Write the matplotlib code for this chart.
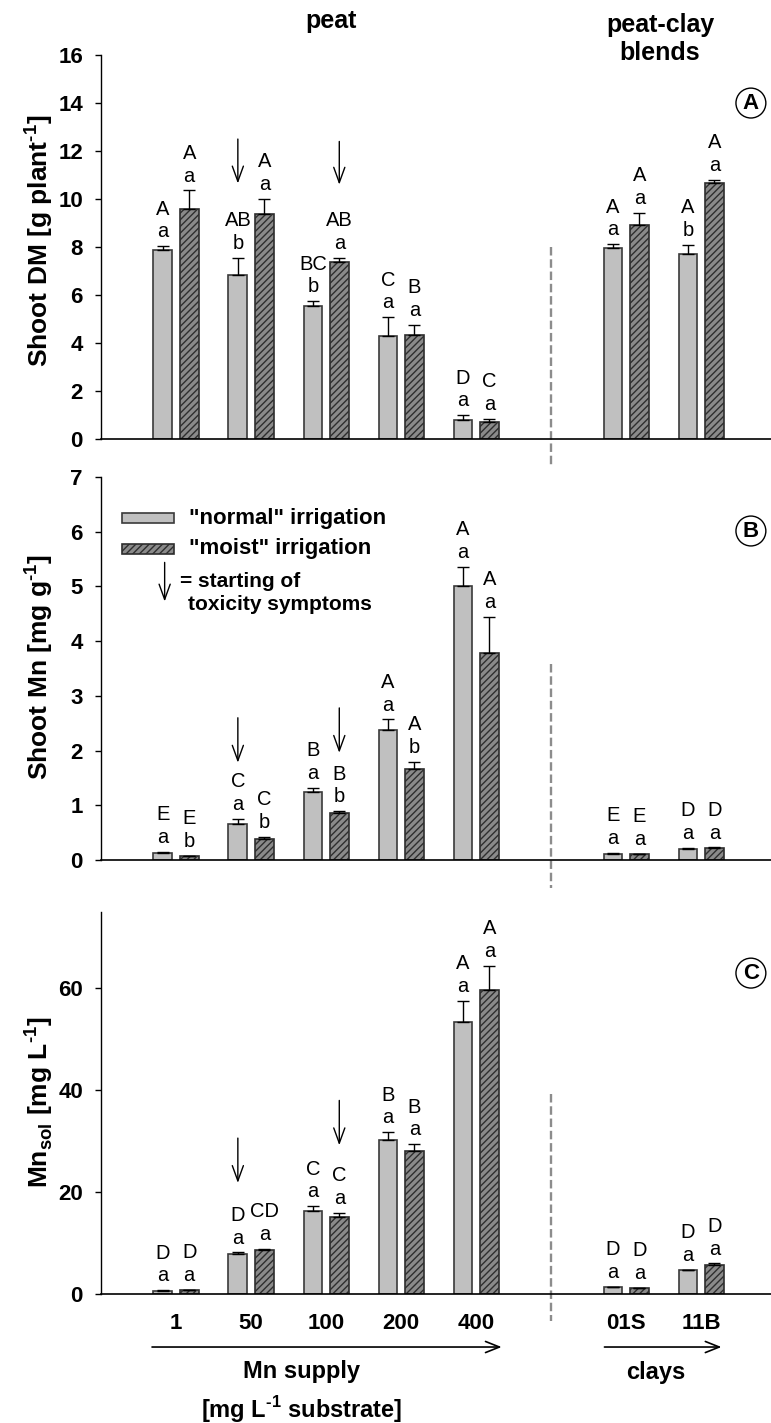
import matplotlib
matplotlib.use("Agg")
import matplotlib.pyplot as plt
import matplotlib.transforms as mtransforms
from matplotlib.patches import Rectangle
import numpy as np

plt.rcParams['font.family'] = ['Liberation Sans', 'DejaVu Sans']
plt.rcParams['mathtext.fontset'] = 'custom'
plt.rcParams['mathtext.rm'] = 'Liberation Sans:bold'
plt.rcParams['mathtext.bf'] = 'Liberation Sans:bold'
plt.rcParams['hatch.linewidth'] = 1.0

# treatments: 5 Mn levels in peat + 2 peat-clay blends
treat = ["1", "50", "100", "200", "400", "01S", "11B"]

# (A) shoot dry matter [g plant-1]
dm_norm = [7.89, 6.83, 5.53, 4.28, 0.80, 7.96, 7.70]
dm_norm_sd = [0.14, 0.71, 0.21, 0.79, 0.19, 0.16, 0.39]
dm_moist = [9.57, 9.38, 7.36, 4.33, 0.71, 8.90, 10.67]
dm_moist_sd = [0.79, 0.62, 0.18, 0.44, 0.12, 0.53, 0.14]
dm_let_norm = ["A\na", "AB\nb", "BC\nb", "C\na", "D\na", "A\na", "A\nb"]
dm_let_moist = ["A\na", "A\na", "AB\na", "B\na", "C\na", "A\na", "A\na"]

# (B) shoot Mn [mg g-1]
mn_norm = [0.134, 0.66, 1.246, 2.37, 5.01, 0.116, 0.208]
mn_norm_sd = [0.013, 0.09, 0.074, 0.20, 0.35, 0.012, 0.012]
mn_moist = [0.067, 0.39, 0.867, 1.668, 3.775, 0.11, 0.22]
mn_moist_sd = [0.006, 0.03, 0.023, 0.122, 0.675, 0.006, 0.012]
mn_let_norm = ["E\na", "C\na", "B\na", "A\na", "A\na", "E\na", "D\na"]
mn_let_moist = ["E\nb", "C\nb", "B\nb", "A\nb", "A\na", "E\na", "D\na"]

# (C) soluble Mn in substrate [mg L-1]
sol_norm = [0.61, 7.82, 16.33, 30.27, 53.33, 1.36, 4.63]
sol_norm_sd = [0.14, 0.34, 0.87, 1.50, 4.29, 0.07, 0.13]
sol_moist = [0.68, 8.71, 15.17, 28.03, 59.66, 1.09, 5.65]
sol_moist_sd = [0.14, 0.20, 0.82, 1.36, 4.76, 0.13, 0.34]
sol_let_norm = ["D\na", "D\na", "C\na", "B\na", "A\na", "D\na", "D\na"]
sol_let_moist = ["D\na", "CD\na", "C\na", "B\na", "A\na", "D\na", "D\na"]

# onset of toxicity symptoms: treatment index, series, arrow from/to
tox_idx = [1, 2]
tox_side = ["norm", "moist"]
tox_A = [(12.5, 10.65), (12.4, 10.6)]
tox_B = [(2.6, 1.78), (2.78, 1.96)]
tox_C = [(30.6, 21.8), (38.0, 29.2)]

# group positions: gap at 5 separates peat from peat-clay blends
x = np.array([0, 1, 2, 3, 4, 6, 7], dtype=float)
w = 0.25
off = 0.176

ARROW = dict(arrowstyle='->, head_length=0.55, head_width=0.2',
             lw=1, color='black', mutation_scale=20, shrinkA=0, shrinkB=0)

fig = plt.figure(figsize=(7.71, 14.23), dpi=100)
L, W = 0.131, 0.869
axA = fig.add_axes([L, 0.6915, W, 0.2698])
axB = fig.add_axes([L, 0.3956, W, 0.2692])
axC = fig.add_axes([L, 0.0907, W, 0.2684])

panels = [
    (axA, dm_norm, dm_norm_sd, dm_moist, dm_moist_sd, dm_let_norm, dm_let_moist,
     tox_A, (0, 16), np.arange(0, 17, 2), r"Shoot DM [g plant$^{\text{-1}}$]", "A", 0.875, 0.5, 0.516),
    (axB, mn_norm, mn_norm_sd, mn_moist, mn_moist_sd, mn_let_norm, mn_let_moist,
     tox_B, (0, 7), np.arange(0, 8, 1), r"Shoot Mn [mg g$^{\text{-1}}$]", "B", 0.859, 0.513, 0.505),
    (axC, sol_norm, sol_norm_sd, sol_moist, sol_moist_sd, sol_let_norm, sol_let_moist,
     tox_C, (0, 75), [0, 20, 40, 60], r"Mn$_{\text{sol}}$ [mg L$^{\text{-1}}$]", "C", 0.84, 0.524, 0.503),
]

for (ax, yn, sn, ym, sm, ln, lm, tox, ylim, yt, ylab, tag, tag_y, dash_top, lab_y) in panels:
    xn = x - off
    xm = x + off
    ax.bar(xn, yn, w, color='#c0c0c0', edgecolor='#3a3a3a', linewidth=1.2, zorder=2)
    ax.bar(xm, ym, w, color='#8a8a8a', edgecolor='#2e2e2e', linewidth=1.2,
           hatch='/////', zorder=2)
    ax.errorbar(xn, yn, yerr=[np.zeros(len(yn)), sn], fmt='none', ecolor='black',
                elinewidth=1, capsize=4.5, capthick=1, zorder=3)
    ax.errorbar(xm, ym, yerr=[np.zeros(len(ym)), sm], fmt='none', ecolor='black',
                elinewidth=1, capsize=4.5, capthick=1, zorder=3)

    # significance letters above the error bars
    for xi, yi, si, t in zip(xn, yn, sn, ln):
        ax.annotate(t, (xi, yi + si), xytext=(0, 3.5), textcoords='offset points',
                    ha='center', va='bottom', fontsize=14.5, linespacing=1.25)
    for xi, yi, si, t in zip(xm, ym, sm, lm):
        ax.annotate(t, (xi, yi + si), xytext=(0, 3.5), textcoords='offset points',
                    ha='center', va='bottom', fontsize=14.5, linespacing=1.25)

    # toxicity arrows
    for i, side, (y0, y1) in zip(tox_idx, tox_side, tox):
        xa = x[i] - off if side == "norm" else x[i] + off
        ax.annotate('', xy=(xa, y1), xytext=(xa, y0), arrowprops=ARROW)

    # dashed separator between peat and peat-clay blends
    trans = mtransforms.blended_transform_factory(ax.transData, ax.transAxes)
    ax.plot([5, 5], [dash_top, -0.072], transform=trans, clip_on=False,
            color='#8c8c8c', lw=1.7, ls=(0, (3.6, 1.6)), zorder=1)

    ax.set_xlim(-1.0, 7.93)
    ax.set_ylim(*ylim)
    ax.set_yticks(yt)
    ax.tick_params(axis='y', direction='out', length=4, width=1, pad=9, labelsize=16)
    for lb in ax.get_yticklabels():
        lb.set_fontweight('bold')
    ax.spines['top'].set_visible(False)
    ax.spines['right'].set_visible(False)
    ax.spines['left'].set_linewidth(1)
    ax.spines['bottom'].set_linewidth(1.2)
    ax.set_ylabel(ylab, fontsize=19, fontweight='bold', va='center')
    ax.yaxis.set_label_coords(-0.093, lab_y)

    ax.text(0.97, tag_y, tag, transform=ax.transAxes, ha='center', va='center',
            fontsize=16, fontweight='bold',
            bbox=dict(boxstyle='circle,pad=0.2', fc='white', ec='black', lw=1))

for ax in (axA, axB):
    ax.set_xticks([])

axC.set_xticks(x)
axC.set_xticklabels(treat, fontsize=16, fontweight='bold')
axC.tick_params(axis='x', length=0, pad=14)

# legend drawn inside panel B
axB.add_patch(Rectangle((0.0313, 0.879), 0.078, 0.026, transform=axB.transAxes,
                        fc='#c0c0c0', ec='#3a3a3a', lw=1.2, clip_on=False))
axB.add_patch(Rectangle((0.0313, 0.800), 0.078, 0.026, transform=axB.transAxes,
                        fc='#8a8a8a', ec='#2e2e2e', lw=1.2, hatch='/////', clip_on=False))
axB.text(0.131, 0.892, '"normal" irrigation', transform=axB.transAxes,
         ha='left', va='center', fontsize=16, fontweight='bold')
axB.text(0.131, 0.813, '"moist" irrigation', transform=axB.transAxes,
         ha='left', va='center', fontsize=16, fontweight='bold')
axB.annotate('', xy=(0.095, 0.675), xytext=(0.095, 0.777), xycoords='axes fraction',
             arrowprops=ARROW)
axB.text(0.118, 0.728, '= starting of', transform=axB.transAxes,
         ha='left', va='center', fontsize=15, fontweight='bold')
axB.text(0.130, 0.668, 'toxicity symptoms', transform=axB.transAxes,
         ha='left', va='center', fontsize=15, fontweight='bold')

# x-axis groupings under panel C
transC = mtransforms.blended_transform_factory(axC.transData, axC.transAxes)
BOTTOM_ARROW = dict(ARROW, lw=1.2, arrowstyle='->, head_length=0.5, head_width=0.2')
axC.annotate('', xy=(4.34, -0.139), xytext=(-0.32, -0.139), xycoords=transC,
             textcoords=transC, annotation_clip=False, arrowprops=BOTTOM_ARROW)
axC.annotate('', xy=(7.27, -0.139), xytext=(5.71, -0.139), xycoords=transC,
             textcoords=transC, annotation_clip=False, arrowprops=BOTTOM_ARROW)
axC.text(1.67, -0.204, 'Mn supply', transform=transC, ha='center', va='center',
         fontsize=17, fontweight='bold')
axC.text(1.67, -0.304, r'[mg L$^{\text{-1}}$ substrate]', transform=transC,
         ha='center', va='center', fontsize=17, fontweight='bold')
axC.text(6.39, -0.207, 'clays', transform=transC, ha='center', va='center',
         fontsize=17, fontweight='bold')

# substrate headings
fig.text(331 / 771, 1 - 28 / 1423, 'peat', ha='center', va='baseline',
         fontsize=18, fontweight='bold')
fig.text(660 / 771, 1 - 32 / 1423, 'peat-clay', ha='center', va='baseline',
         fontsize=18, fontweight='bold')
fig.text(660 / 771, 1 - 60 / 1423, 'blends', ha='center', va='baseline',
         fontsize=18, fontweight='bold')

fig.savefig('out.png', dpi=100)
